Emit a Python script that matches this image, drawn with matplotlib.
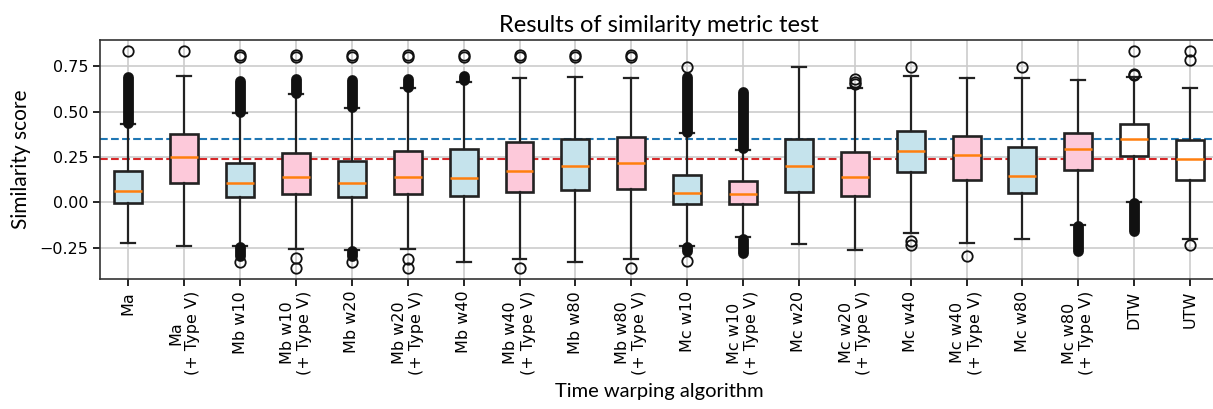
import numpy as np
import matplotlib.pyplot as plt

plt.rcParams['font.family'] = 'DejaVu Sans'

# data
labels = ["Ma", "Ma\n(+ Type V)", "Mb w10", "Mb w10\n(+ Type V)", "Mb w20",
          "Mb w20\n(+ Type V)", "Mb w40", "Mb w40\n(+ Type V)", "Mb w80",
          "Mb w80\n(+ Type V)", "Mc w10", "Mc w10\n(+ Type V)", "Mc w20",
          "Mc w20\n(+ Type V)", "Mc w40", "Mc w40\n(+ Type V)", "Mc w80",
          "Mc w80\n(+ Type V)", "DTW", "UTW"]

q1 = [-0.002, 0.108, 0.028, 0.047, 0.028, 0.047, 0.038, 0.060, 0.068, 0.075,
      -0.009, -0.008, 0.057, 0.035, 0.165, 0.123, 0.050, 0.180, 0.255, 0.123]
med = [0.064, 0.249, 0.108, 0.139, 0.108, 0.141, 0.132, 0.174, 0.200, 0.216,
       0.051, 0.047, 0.200, 0.139, 0.282, 0.260, 0.143, 0.295, 0.347, 0.237]
q3 = [0.171, 0.376, 0.216, 0.273, 0.227, 0.282, 0.292, 0.332, 0.350, 0.358,
      0.150, 0.117, 0.347, 0.279, 0.396, 0.365, 0.306, 0.385, 0.430, 0.343]
whislo = [-0.222, -0.242, -0.240, -0.257, -0.263, -0.257, -0.327, -0.312, -0.327, -0.312,
          -0.239, -0.190, -0.230, -0.264, -0.171, -0.224, -0.200, -0.125, 0.003, -0.204]
whishi = [0.430, 0.699, 0.493, 0.600, 0.520, 0.633, 0.664, 0.686, 0.690, 0.686,
          0.385, 0.290, 0.745, 0.633, 0.695, 0.684, 0.686, 0.672, 0.690, 0.631]

fliers = [[0.833], [0.833], [0.80, 0.815, -0.327], [0.80, 0.815, -0.305, -0.363],
          [0.80, 0.815, -0.327], [0.80, 0.815, -0.31, -0.363], [0.80, 0.815],
          [0.80, 0.815, -0.363], [0.80, 0.815], [0.80, 0.815, -0.363],
          [0.745, -0.321], [], [], [0.65, 0.665, 0.68], [0.745, -0.21, -0.235],
          [-0.296], [0.745], [], [0.70, 0.705, 0.833], [0.784, 0.833, -0.235]]

# dense runs of outliers (box index, low end, high end)
runs_idx = [0, 2, 2, 3, 4, 4, 5, 6, 10, 10, 11, 11, 17, 18]
runs_lo = [0.435, 0.50, -0.295, 0.605, 0.525, -0.295, 0.635, 0.675, 0.39, -0.27,
           0.30, -0.28, -0.265, -0.16]
runs_hi = [0.69, 0.67, -0.245, 0.68, 0.675, -0.265, 0.68, 0.695, 0.69, -0.245,
           0.61, -0.20, -0.13, -0.005]

dtw_ref = 0.347
utw_ref = 0.237

blue = '#c5e3ec'
pink = '#fdc9da'

fig = plt.figure(figsize=(12.13, 4.09), dpi=100)
ax = fig.add_axes([100.4/1213, 1 - 279/409, 1117.6/1213, 239/409])

stats = []
for i in range(len(labels)):
    stats.append(dict(q1=q1[i], med=med[i], q3=q3[i], whislo=whislo[i],
                      whishi=whishi[i], fliers=fliers[i], label=labels[i]))

pos = np.arange(1, len(labels) + 1)
bp = ax.bxp(stats, positions=pos, widths=0.5, patch_artist=True,
            boxprops=dict(linewidth=1.9, edgecolor='#222222'),
            whiskerprops=dict(linewidth=1.6, color='#222222'),
            capprops=dict(linewidth=1.6, color='#222222'),
            medianprops=dict(linewidth=1.8, color='tab:orange'),
            flierprops=dict(marker='o', markersize=7.5, markerfacecolor='none',
                            markeredgecolor='#111111', markeredgewidth=1.3))

for i, box in enumerate(bp['boxes']):
    if i >= 18:
        box.set_facecolor('white')
    elif i % 2 == 0:
        box.set_facecolor(blue)
    else:
        box.set_facecolor(pink)

lc = ax.vlines(pos[runs_idx], runs_lo, runs_hi, colors='#111111', linewidth=7.8, zorder=3)
lc.set_capstyle('round')

ax.axhline(dtw_ref, color='tab:blue', linestyle='--', linewidth=1.5, zorder=1.5)
ax.axhline(utw_ref, color='tab:red', linestyle='--', linewidth=1.5, zorder=1.5)

ax.set_xlim(0.5, 20.5)
ax.set_ylim(-0.422, 0.895)
ax.set_yticks([-0.25, 0, 0.25, 0.5, 0.75])
ax.grid(True, color='#cccccc', linewidth=1.2)
ax.set_axisbelow(True)
ax.tick_params(axis='both', labelsize=11.5, length=5, width=1.2)
ax.set_xticks(pos)
ax.set_xticklabels(labels, rotation=90)
for s in ax.spines.values():
    s.set_linewidth(1.2)
    s.set_color('#333333')

ax.set_title("Results of similarity metric test", family='Lato', fontsize=17, pad=6)
ax.set_ylabel("Similarity score", family='Lato', fontsize=15, labelpad=6)
ax.set_xlabel("Time warping algorithm", family='Lato', fontsize=14.5, labelpad=6)

fig.savefig('out.png', dpi=100)
